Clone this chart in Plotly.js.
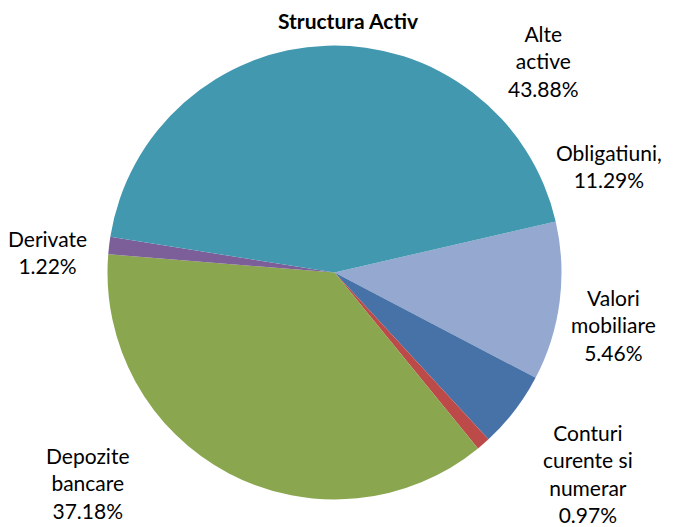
<!DOCTYPE html>
<html>
<head>
<meta charset="utf-8">
<script src="https://cdn.plot.ly/plotly-3.0.1.min.js"></script>
<style>html,body{margin:0;padding:0;background:#fff;}#chart{width:673px;height:527px;}</style>
</head>
<body>
<div id="chart"></div>
<script>
const categories = ["Obligatiuni,", "Valori mobiliare", "Conturi curente si numerar", "Depozite bancare", "Derivate", "Alte active"];
const labelLines = [["Obligatiuni,"], ["Valori", "mobiliare"], ["Conturi", "curente si", "numerar"], ["Depozite", "bancare"], ["Derivate"], ["Alte", "active"]];
const values = [11.29, 5.46, 0.97, 37.18, 1.22, 43.88];
const colors = ["#94A8D0", "#4672A7", "#BC4A48", "#8AA64E", "#7C5F99", "#4198AF"];
const labelPos = [[609, 166], [613, 325], [588, 473], [87, 483], [47, 252], [543, 61]];

const W = 673, H = 527;
const cx = 334.5, cy = 272.5, r = 227;

const annotations = categories.map((c, i) => ({
  xref: 'paper', yref: 'paper',
  x: labelPos[i][0] / W, y: 1 - labelPos[i][1] / H,
  xanchor: 'center', yanchor: 'middle',
  text: labelLines[i].concat([values[i].toFixed(2) + '%']).join('<br>'),
  showarrow: false,
  font: {family: 'Lato, sans-serif', size: 21, color: '#000'},
  align: 'center'
}));

const data = [{
  type: 'pie',
  labels: categories,
  values: values,
  sort: false,
  direction: 'clockwise',
  rotation: 77,
  marker: {colors: colors, line: {width: 0}},
  textinfo: 'none',
  hoverinfo: 'label+percent',
  domain: {x: [(cx - r) / W, (cx + r) / W], y: [(H - cy - r) / H, (H - cy + r) / H]}
}];

const layout = {
  width: W, height: H,
  margin: {l: 0, r: 0, t: 0, b: 0},
  paper_bgcolor: '#fff',
  showlegend: false,
  title: {text: '<b>Structura Activ</b>', x: 348 / W, xanchor: 'center', y: 1 - 22 / H, yanchor: 'middle',
          font: {family: 'Lato, sans-serif', size: 21, color: '#000'}},
  annotations: annotations
};

Plotly.newPlot('chart', data, layout, {displayModeBar: false, staticPlot: true});
</script>
</body>
</html>
